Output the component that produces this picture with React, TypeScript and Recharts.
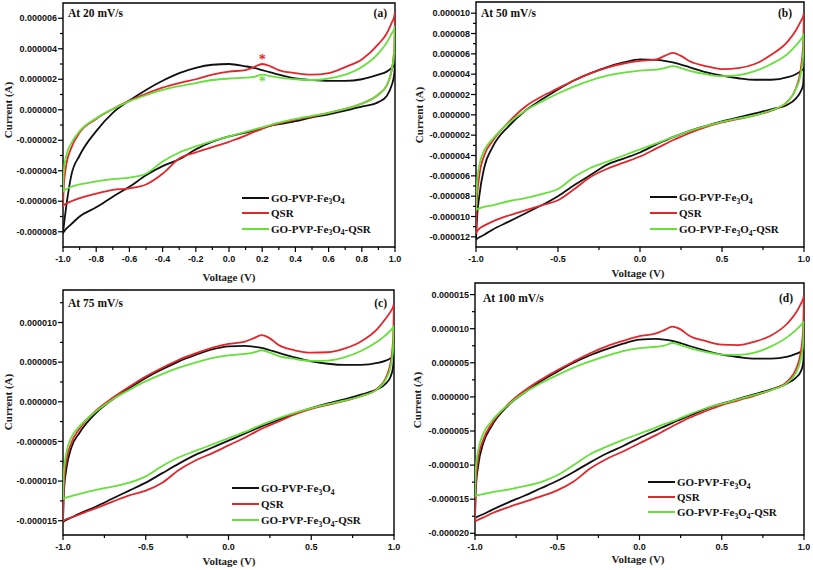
import React from "react";
import { LineChart, Line, XAxis, YAxis, ReferenceArea, ReferenceDot } from "recharts";

// shared voltage grid (V); every branch below is sampled on it
const VOLTAGE = [-1, -0.995, -0.98, -0.95, -0.9, -0.8, -0.7, -0.6, -0.5, -0.4, -0.3, -0.2, -0.1, 0, 0.1, 0.15, 0.2, 0.25, 0.3, 0.4, 0.5, 0.6, 0.7, 0.8, 0.9, 0.95, 0.98, 0.995, 1];

// currents in µA (axes print them in A). UP = upper branch, DN = lower branch
// GO = GO-PVP-Fe3O4, QSR = QSR, MIX = GO-PVP-Fe3O4-QSR

// --- 20 mV/s ---
const GO_20_UP = [-8.1, -7.6, -6.3, -4.3, -3.0, -1.4, -0.2, 0.6, 1.3, 1.9, 2.4, 2.75, 2.95, 3.0, 2.85, 2.75, 2.6, 2.45, 2.3, 2.05, 1.95, 1.9, 1.9, 2.0, 2.3, 2.5, 2.75, 2.9, 3.0];
const GO_20_DN = [-8.1, -8.0, -7.8, -7.5, -7.0, -6.4, -5.7, -5.05, -4.3, -3.7, -3.25, -2.6, -2.1, -1.75, -1.5, -1.35, -1.2, -1.05, -0.95, -0.75, -0.5, -0.3, -0.05, 0.2, 0.5, 0.9, 1.6, 2.3, 3.0];
const QSR_20_UP = [-6.35, -5.0, -3.6, -2.5, -1.5, -0.6, 0.05, 0.6, 1.05, 1.45, 1.75, 2.0, 2.3, 2.5, 2.6, 2.8, 3.0, 2.85, 2.6, 2.4, 2.3, 2.4, 2.8, 3.3, 4.3, 5.0, 5.7, 6.1, 6.4];
const QSR_20_DN = [-6.35, -6.25, -6.15, -6.0, -5.8, -5.5, -5.25, -5.15, -4.9, -4.2, -3.2, -2.8, -2.45, -2.1, -1.7, -1.45, -1.25, -1.05, -0.9, -0.65, -0.45, -0.2, 0.05, 0.4, 1.0, 1.6, 2.6, 4.0, 6.4];
const MIX_20_UP = [-5.4, -4.0, -3.0, -2.2, -1.4, -0.55, 0.05, 0.55, 0.95, 1.3, 1.55, 1.75, 1.95, 2.05, 2.1, 2.15, 2.3, 2.2, 2.1, 2.0, 1.95, 2.05, 2.3, 2.8, 3.7, 4.4, 5.0, 5.3, 5.5];
const MIX_20_DN = [-5.4, -5.3, -5.2, -5.05, -4.9, -4.7, -4.55, -4.45, -4.2, -3.4, -2.8, -2.4, -2.05, -1.75, -1.45, -1.3, -1.15, -1.0, -0.85, -0.6, -0.4, -0.2, 0.05, 0.4, 1.0, 1.6, 2.6, 3.8, 5.5];

// --- 50 mV/s ---
const GO_50_UP = [-12.3, -10.5, -8.0, -5.2, -3.2, -1.1, 0.4, 1.5, 2.5, 3.4, 4.1, 4.7, 5.15, 5.45, 5.4, 5.3, 5.15, 4.95, 4.7, 4.2, 3.85, 3.6, 3.45, 3.45, 3.7, 4.0, 4.3, 4.5, 4.65];
const GO_50_DN = [-12.3, -12.2, -12.05, -11.8, -11.3, -10.5, -9.7, -8.9, -8.0, -6.9, -5.9, -4.9, -4.3, -3.7, -2.9, -2.55, -2.2, -1.9, -1.6, -1.1, -0.65, -0.26, 0.15, 0.55, 1.0, 1.6, 2.3, 3.0, 4.65];
const QSR_50_UP = [-11.7, -8.5, -6.0, -4.0, -2.6, -0.7, 0.8, 1.8, 2.6, 3.4, 4.1, 4.65, 5.05, 5.3, 5.45, 5.8, 6.1, 5.8, 5.3, 4.8, 4.5, 4.6, 5.0, 5.9, 7.2, 8.3, 9.2, 9.7, 10.0];
const QSR_50_DN = [-11.7, -11.5, -11.2, -10.9, -10.5, -9.9, -9.4, -8.9, -8.4, -7.3, -6.1, -5.3, -4.7, -4.1, -3.3, -2.9, -2.5, -2.15, -1.8, -1.2, -0.75, -0.4, -0.05, 0.4, 1.3, 2.6, 4.5, 7.0, 10.0];
const MIX_50_UP = [-9.4, -7.0, -5.0, -3.5, -2.4, -0.8, 0.4, 1.3, 2.1, 2.8, 3.4, 3.85, 4.15, 4.35, 4.45, 4.6, 4.8, 4.6, 4.35, 4.0, 3.8, 3.9, 4.3, 5.0, 6.0, 6.8, 7.4, 7.8, 8.0];
const MIX_50_DN = [-9.4, -9.3, -9.2, -9.05, -8.9, -8.5, -8.2, -7.8, -7.3, -6.1, -5.2, -4.6, -4.0, -3.4, -2.8, -2.5, -2.2, -1.9, -1.6, -1.1, -0.7, -0.35, -0.05, 0.45, 1.3, 2.5, 4.0, 6.0, 8.0];

// --- 75 mV/s ---
const GO_75_UP = [-15.2, -11.5, -8.5, -5.8, -3.9, -1.4, 0.3, 1.7, 3.0, 4.1, 5.1, 5.9, 6.6, 7.0, 7.05, 6.95, 6.8, 6.5, 6.2, 5.6, 5.1, 4.8, 4.65, 4.65, 4.9, 5.2, 5.5, 5.7, 5.9];
const GO_75_DN = [-15.2, -15.1, -14.9, -14.6, -14.1, -13.2, -12.2, -11.2, -10.2, -9.0, -7.8, -6.7, -5.8, -4.9, -4.0, -3.55, -3.1, -2.7, -2.3, -1.5, -0.8, -0.2, 0.3, 0.9, 1.6, 2.3, 3.2, 4.5, 5.9];
const QSR_75_UP = [-15.1, -10.5, -7.5, -5.2, -3.4, -1.1, 0.5, 1.9, 3.2, 4.3, 5.3, 6.1, 6.8, 7.3, 7.6, 8.0, 8.4, 8.0, 7.2, 6.5, 6.2, 6.25, 6.7, 7.6, 9.2, 10.5, 11.4, 12.0, 12.4];
const QSR_75_DN = [-15.1, -15.0, -14.8, -14.6, -14.2, -13.4, -12.6, -11.8, -11.2, -10.2, -8.6, -7.4, -6.5, -5.5, -4.5, -3.95, -3.4, -2.95, -2.5, -1.6, -0.9, -0.4, 0.1, 0.7, 1.7, 3.0, 5.0, 8.0, 12.4];
const MIX_75_UP = [-12.3, -9.0, -6.5, -4.5, -3.1, -1.2, 0.3, 1.5, 2.6, 3.5, 4.3, 4.95, 5.5, 5.85, 6.05, 6.2, 6.5, 6.2, 5.8, 5.4, 5.15, 5.2, 5.6, 6.4, 7.6, 8.4, 9.0, 9.4, 9.6];
const MIX_75_DN = [-12.3, -12.2, -12.05, -11.9, -11.6, -11.1, -10.7, -10.2, -9.4, -8.1, -7.0, -6.2, -5.4, -4.6, -3.8, -3.35, -2.9, -2.5, -2.1, -1.4, -0.8, -0.3, 0.15, 0.7, 1.6, 2.8, 4.5, 7.0, 9.6];

// --- 100 mV/s ---
const GO_100_UP = [-17.8, -13.5, -10.0, -6.8, -4.3, -1.3, 0.6, 2.3, 3.7, 5.0, 6.1, 7.0, 7.8, 8.4, 8.5, 8.4, 8.2, 7.9, 7.5, 6.8, 6.2, 5.85, 5.6, 5.6, 5.9, 6.3, 6.6, 6.8, 6.9];
const GO_100_DN = [-17.8, -17.7, -17.5, -17.2, -16.6, -15.5, -14.5, -13.4, -12.3, -11.0, -9.6, -8.3, -7.2, -6.0, -4.9, -4.35, -3.8, -3.3, -2.8, -1.8, -1.0, -0.3, 0.4, 1.1, 2.0, 2.8, 3.7, 5.0, 6.9];
const QSR_100_UP = [-18.3, -12.5, -9.0, -6.3, -4.0, -1.1, 0.9, 2.5, 3.9, 5.2, 6.4, 7.4, 8.2, 8.9, 9.3, 9.8, 10.3, 9.9, 9.0, 8.2, 7.65, 7.6, 8.1, 9.0, 10.8, 12.3, 13.6, 14.4, 14.9];
const QSR_100_DN = [-18.3, -18.2, -18.0, -17.7, -17.1, -16.2, -15.4, -14.6, -13.7, -12.4, -10.5, -9.1, -8.0, -6.8, -5.6, -4.95, -4.3, -3.7, -3.1, -2.1, -1.2, -0.5, 0.2, 1.0, 2.3, 4.0, 6.5, 10.0, 14.9];
const MIX_100_UP = [-14.6, -10.5, -7.8, -5.4, -3.6, -1.2, 0.6, 2.0, 3.2, 4.3, 5.2, 6.0, 6.7, 7.15, 7.35, 7.5, 7.9, 7.6, 7.2, 6.6, 6.2, 6.15, 6.5, 7.4, 8.8, 9.8, 10.5, 10.9, 11.1];
const MIX_100_DN = [-14.6, -14.5, -14.4, -14.25, -14.0, -13.6, -13.1, -12.5, -11.5, -10.0, -8.4, -7.3, -6.3, -5.4, -4.5, -4.0, -3.6, -3.1, -2.6, -1.7, -1.0, -0.35, 0.3, 1.0, 2.1, 3.5, 5.5, 8.0, 11.1];

// ticks (minor ones included, labels only on the majors)
const X_TICKS_FINE = [-1, -0.9, -0.8, -0.7, -0.6, -0.5, -0.4, -0.3, -0.2, -0.1, 0, 0.1, 0.2, 0.3, 0.4, 0.5, 0.6, 0.7, 0.8, 0.9, 1];
const X_TICKS_COARSE = [-1, -0.75, -0.5, -0.25, 0, 0.25, 0.5, 0.75, 1];
const Y_TICKS_20 = [-8, -7, -6, -5, -4, -3, -2, -1, 0, 1, 2, 3, 4, 5, 6];
const Y_TICKS_50 = [-12, -11, -10, -9, -8, -7, -6, -5, -4, -3, -2, -1, 0, 1, 2, 3, 4, 5, 6, 7, 8, 9, 10];
const Y_TICKS_75 = [-15, -12.5, -10, -7.5, -5, -2.5, 0, 2.5, 5, 7.5, 10, 12.5];
const Y_TICKS_100 = [-20, -17.5, -15, -12.5, -10, -7.5, -5, -2.5, 0, 2.5, 5, 7.5, 10, 12.5, 15];

const SERIF = '"Liberation Serif", "Times New Roman", serif';
const SANS = '"Liberation Sans", Arial, sans-serif';

const COLORS = { go: "#111111", qsr: "#e3262b", mix: "#66e03a" };

const isMajor = (v: number, step: number) => Math.abs(v / step - Math.round(v / step)) < 1e-6;

const makeXTick = (step: number) => (props: any) => {
    const { x, y, payload } = props;
    const major = isMajor(payload.value, step);
    return (
        <g>
            <line x1={x} x2={x} y1={y} y2={y + (major ? 5 : 3)} stroke="#000" strokeWidth={1.2} />
            {major && (
                <text x={x} y={y + 14.5} textAnchor="middle" fontSize={9} fontWeight="bold" fontFamily={SANS} fill="#111">
                    {payload.value.toFixed(1)}
                </text>
            )}
        </g>
    );
};

const makeYTick = (step: number) => (props: any) => {
    const { x, y, payload } = props;
    const major = isMajor(payload.value, step);
    return (
        <g>
            <line x1={x} x2={x - (major ? 5 : 3)} y1={y} y2={y} stroke="#000" strokeWidth={1.2} />
            {major && (
                <text x={x - 6} y={y + 3.2} textAnchor="end" fontSize={9} fontWeight="bold" fontFamily={SANS} fill="#111">
                    {(payload.value * 1e-6).toFixed(6)}
                </text>
            )}
        </g>
    );
};

const Fe3O4 = () => (
    <>Fe<span style={{ fontSize: 7.5, position: "relative", top: 2.5 }}>3</span>O<span style={{ fontSize: 7.5, position: "relative", top: 2.5 }}>4</span></>
);

const LEGEND = [
    { color: COLORS.go, label: <>GO-PVP-<Fe3O4 /></> },
    { color: COLORS.qsr, label: <>QSR</> },
    { color: COLORS.mix, label: <>GO-PVP-<Fe3O4 />-QSR</> },
];

const PANELS = [
    {
        id: "a", rate: "At 20 mV/s", left: 0, top: 0, width: 405, height: 280,
        margin: { top: 3, right: 10, bottom: 0, left: 0 }, yAxisWidth: 63, xAxisHeight: 33,
        yDomain: [-9, 7], yTicks: Y_TICKS_20, yStep: 2, xTicks: X_TICKS_FINE, xStep: 0.2,
        curves: [[GO_20_UP, GO_20_DN], [QSR_20_UP, QSR_20_DN], [MIX_20_UP, MIX_20_DN]],
        title: [68, 13], tag: 387, legend: [242, 197.5, 15.5], xTitle: [229, 277], yTitle: [8, 110],
        stars: true,
    },
    {
        id: "b", rate: "At 50 mV/s", left: 405, top: 0, width: 408, height: 280,
        margin: { top: 2, right: 9, bottom: 0, left: 0 }, yAxisWidth: 71, xAxisHeight: 33,
        yDomain: [-13, 11.1], yTicks: Y_TICKS_50, yStep: 2, xTicks: X_TICKS_COARSE, xStep: 0.5,
        curves: [[GO_50_UP, GO_50_DN], [QSR_50_UP, QSR_50_DN], [MIX_50_UP, MIX_50_DN]],
        title: [481, 13], tag: 792, legend: [650, 197, 16], xTitle: [638, 273], yTitle: [419, 115],
        stars: false,
    },
    {
        id: "c", rate: "At 75 mV/s", left: 0, top: 280, width: 405, height: 290,
        margin: { top: 10, right: 11, bottom: 0, left: 0 }, yAxisWidth: 63, xAxisHeight: 35,
        yDomain: [-16.8, 14.1], yTicks: Y_TICKS_75, yStep: 5, xTicks: X_TICKS_COARSE, xStep: 0.5,
        curves: [[GO_75_UP, GO_75_DN], [QSR_75_UP, QSR_75_DN], [MIX_75_UP, MIX_75_DN]],
        title: [68, 303], tag: 387, legend: [232, 488, 16], xTitle: [229, 561], yTitle: [8, 402],
        stars: false,
    },
    {
        id: "d", rate: "At 100 mV/s", left: 405, top: 280, width: 408, height: 290,
        margin: { top: 3, right: 9, bottom: 0, left: 0 }, yAxisWidth: 70, xAxisHeight: 35,
        yDomain: [-20.25, 16.7], yTicks: Y_TICKS_100, yStep: 5, xTicks: X_TICKS_COARSE, xStep: 0.5,
        curves: [[GO_100_UP, GO_100_DN], [QSR_100_UP, QSR_100_DN], [MIX_100_UP, MIX_100_DN]],
        title: [483, 298], tag: 793, legend: [648, 482, 15], xTitle: [638, 559], yTitle: [417, 400],
        stars: false,
    },
];

const toPoints = (values: number[]) => VOLTAGE.map((v, k) => ({ v, i: values[k] }));

function Panel({ p }: { p: any }) {
    const colors = [COLORS.go, COLORS.qsr, COLORS.mix];
    return (
        <>
            <div style={{ position: "absolute", left: p.left, top: p.top }}>
                <LineChart width={p.width} height={p.height} margin={p.margin}>
                    <XAxis
                        dataKey="v" type="number" domain={[-1, 1]} ticks={p.xTicks} interval={0}
                        tick={makeXTick(p.xStep)} tickLine={false} tickSize={0} tickMargin={0}
                        axisLine={false} height={p.xAxisHeight} allowDataOverflow
                    />
                    <YAxis
                        type="number" domain={p.yDomain} ticks={p.yTicks} interval={0}
                        tick={makeYTick(p.yStep)} tickLine={false} tickSize={0} tickMargin={0}
                        axisLine={false} width={p.yAxisWidth} allowDataOverflow
                    />
                    <ReferenceArea
                        x1={-1} x2={1} y1={p.yDomain[0]} y2={p.yDomain[1]}
                        fill="#fff" fillOpacity={0} stroke="#000" strokeWidth={1.4} ifOverflow="visible"
                    />
                    {p.curves.map((pair: number[][], s: number) =>
                        pair.map((branch: number[], b: number) => (
                            <Line
                                key={`${p.id}-${s}-${b}`}
                                data={toPoints(branch)}
                                dataKey="i"
                                type="monotone"
                                stroke={colors[s]}
                                strokeWidth={1.8}
                                dot={false}
                                activeDot={false}
                                isAnimationActive={false}
                            />
                        ))
                    )}
                    {p.stars && (
                        <ReferenceDot
                            x={0.2} y={3.45} r={0} ifOverflow="visible"
                            shape={(s: any) => (
                                <text x={s.cx} y={s.cy + 6.5} textAnchor="middle" fontSize={14} fontWeight="bold" fontFamily={SERIF} fill={COLORS.qsr}>*</text>
                            )}
                        />
                    )}
                    {p.stars && (
                        <ReferenceDot
                            x={0.2} y={2.0} r={0} ifOverflow="visible"
                            shape={(s: any) => (
                                <text x={s.cx} y={s.cy + 6.5} textAnchor="middle" fontSize={14} fontWeight="bold" fontFamily={SERIF} fill={COLORS.mix}>*</text>
                            )}
                        />
                    )}
                </LineChart>
            </div>

            {/* scan rate + panel letter */}
            <div style={{ position: "absolute", left: p.title[0], top: p.title[1] - 7, fontFamily: SERIF, fontWeight: "bold", fontSize: 11.5, lineHeight: "14px", whiteSpace: "nowrap", color: "#111" }}>
                {p.rate}
            </div>
            <div style={{ position: "absolute", right: 813 - p.tag, top: p.title[1] - 7, fontFamily: SERIF, fontWeight: "bold", fontSize: 11.5, lineHeight: "14px", color: "#111" }}>
                ({p.id})
            </div>

            {/* axis titles */}
            <div style={{ position: "absolute", left: p.xTitle[0], top: p.xTitle[1], transform: "translate(-50%, -50%)", fontFamily: SERIF, fontWeight: "bold", fontSize: 11, lineHeight: "12px", whiteSpace: "nowrap", color: "#222" }}>
                Voltage (V)
            </div>
            <div style={{ position: "absolute", left: p.yTitle[0], top: p.yTitle[1], transform: "translate(-50%, -50%) rotate(-90deg)", fontFamily: SERIF, fontWeight: "bold", fontSize: 11, lineHeight: "12px", whiteSpace: "nowrap", color: "#222" }}>
                Current (A)
            </div>

            {/* legend */}
            {LEGEND.map((item, k) => (
                <div key={k} style={{ position: "absolute", left: p.legend[0], top: p.legend[1] + k * p.legend[2] - 7, height: 14, display: "flex", alignItems: "center", whiteSpace: "nowrap" }}>
                    <div style={{ width: 27, height: 2, background: item.color, marginRight: 2 }} />
                    <span style={{ fontFamily: SERIF, fontWeight: "bold", fontSize: 11, color: "#111" }}>{item.label}</span>
                </div>
            ))}
        </>
    );
}

export default function App() {
    return (
        <div style={{ position: "relative", width: 813, height: 570, background: "#fff", overflow: "hidden" }}>
            <style>{"body{margin:0}"}</style>
            {PANELS.map((p) => (
                <Panel key={p.id} p={p} />
            ))}
        </div>
    );
}
